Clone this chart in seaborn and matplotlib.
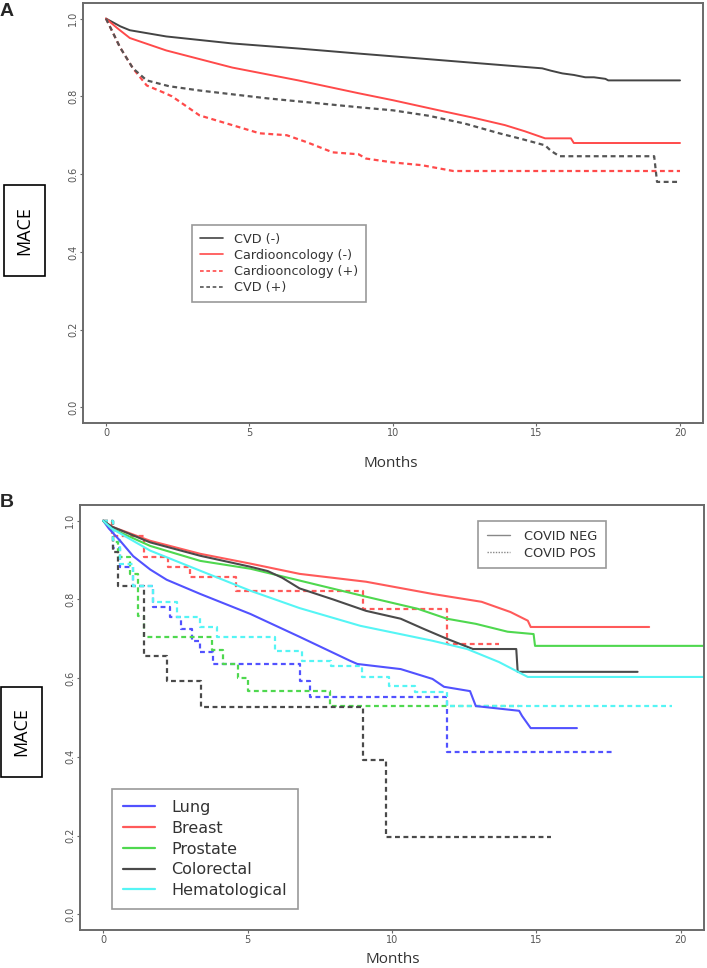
import matplotlib
matplotlib.use("Agg")
import matplotlib.pyplot as plt
from matplotlib.lines import Line2D
from matplotlib.patches import Rectangle
import seaborn as sns

sns.set_style("white")
plt.rcParams['font.family'] = ['DejaVu Sans']

# ---------------- panel A data ----------------
cvd_neg_months = [0, 0.5, 0.83, 2.1, 4.4, 6.7, 8.8, 11, 13, 15.2, 15.5, 15.9, 16.3, 16.7, 17.0, 17.4, 17.5, 20]
cvd_neg_mace = [1.0, 0.98, 0.97, 0.954, 0.936, 0.923, 0.91, 0.897, 0.885, 0.872, 0.866, 0.859, 0.855,
                0.849, 0.849, 0.845, 0.841, 0.841]

cardio_neg_months = [0, 0.4, 0.83, 2.1, 4.4, 6.7, 8.8, 10.0, 11.6, 12.8, 13.9, 14.6, 15.3, 16.2, 16.3, 20]
cardio_neg_mace = [1.0, 0.975, 0.95, 0.918, 0.874, 0.841, 0.808, 0.79, 0.764, 0.745, 0.726, 0.71,
                   0.692, 0.692, 0.68, 0.68]

cardio_pos_months = [0, 0.2, 0.49, 0.94, 1.42, 2.0, 2.3, 3.26, 4.4, 5.35, 6.3, 7.0, 7.9, 8.8, 9.06,
                     10.0, 11.0, 12.1, 20]
cardio_pos_mace = [1.0, 0.97, 0.926, 0.872, 0.828, 0.81, 0.80, 0.751, 0.726, 0.705, 0.70, 0.682,
                   0.656, 0.651, 0.64, 0.63, 0.623, 0.608, 0.608]

cvd_pos_months = [0, 0.2, 0.49, 0.94, 1.42, 2.2, 3.26, 5.6, 8.8, 10.0, 11.25, 12.5, 13.7, 14.5, 15.3,
                  15.5, 15.8, 19.1, 19.2, 20]
cvd_pos_mace = [1.0, 0.97, 0.926, 0.872, 0.841, 0.826, 0.815, 0.795, 0.772, 0.764, 0.75, 0.73, 0.705,
                0.69, 0.674, 0.66, 0.646, 0.646, 0.58, 0.58]

# ---------------- panel B data ----------------
# COVID negative (solid)
lung_months = [0, 0.2, 0.59, 1.04, 1.63, 2.2, 3.36, 5.1, 6.8, 8.55, 8.8, 10.3, 11.4, 11.8, 12.7, 12.9,
               14.4, 14.5, 14.8, 16.4]
lung_mace = [1.0, 0.98, 0.949, 0.91, 0.876, 0.85, 0.814, 0.763, 0.705, 0.644, 0.636, 0.623, 0.598,
             0.578, 0.567, 0.529, 0.517, 0.504, 0.473, 0.473]

breast_months = [0, 0.3, 1.63, 3.36, 5.1, 6.8, 9.1, 11.4, 13.1, 14.1, 14.7, 14.8, 18.9]
breast_mace = [1.0, 0.985, 0.949, 0.916, 0.891, 0.865, 0.845, 0.814, 0.794, 0.768, 0.746, 0.73, 0.73]

prostate_months = [0, 0.3, 1.63, 3.36, 5.1, 6.8, 9.1, 10.9, 11.9, 12.9, 14.0, 14.9, 14.95, 20.8]
prostate_mace = [1.0, 0.98, 0.936, 0.898, 0.878, 0.848, 0.807, 0.776, 0.751, 0.738, 0.718, 0.712,
                 0.682, 0.682]

colorectal_months = [0, 0.3, 1.63, 3.36, 5.1, 5.7, 6.2, 6.8, 7.96, 9.1, 10.3, 11.1, 11.9, 12.8, 14.3,
                     14.35, 18.5]
colorectal_mace = [1.0, 0.985, 0.945, 0.911, 0.883, 0.872, 0.855, 0.828, 0.80, 0.771, 0.751, 0.725,
                   0.70, 0.674, 0.674, 0.616, 0.616]

hemat_months = [0, 0.3, 1.63, 3.36, 5.1, 6.8, 8.9, 11.4, 12.6, 13.7, 14.7, 20.8]
hemat_mace = [1.0, 0.98, 0.924, 0.873, 0.822, 0.778, 0.733, 0.695, 0.674, 0.641, 0.603, 0.603]

# COVID positive (dashed, step curves)
lung_pos_months = [0, 0.35, 0.59, 1.04, 1.73, 2.3, 2.7, 3.07, 3.36, 3.8, 6.8, 7.16, 11.9, 17.6]
lung_pos_mace = [1.0, 0.93, 0.883, 0.835, 0.781, 0.756, 0.725, 0.695, 0.667, 0.636, 0.593, 0.552,
                 0.412, 0.412]

breast_pos_months = [0, 0.3, 1.4, 2.25, 3.0, 4.6, 9.0, 11.9, 13.7]
breast_pos_mace = [1.0, 0.96, 0.908, 0.883, 0.857, 0.822, 0.776, 0.687, 0.687]

prostate_pos_months = [0, 0.35, 0.52, 0.93, 1.2, 1.4, 3.77, 4.15, 4.67, 5.0, 7.85, 14.4]
prostate_pos_mace = [1.0, 0.947, 0.908, 0.865, 0.758, 0.705, 0.672, 0.636, 0.60, 0.567, 0.529, 0.529]

colorectal_pos_months = [0, 0.35, 0.52, 1.4, 2.2, 3.4, 9.0, 9.8, 15.5]
colorectal_pos_mace = [1.0, 0.92, 0.835, 0.656, 0.593, 0.527, 0.392, 0.196, 0.196]

hemat_pos_months = [0, 0.35, 0.59, 1.04, 1.73, 2.56, 3.36, 3.95, 5.95, 6.9, 7.9, 8.96, 9.9, 10.8,
                    11.9, 19.7]
hemat_pos_mace = [1.0, 0.95, 0.89, 0.835, 0.794, 0.756, 0.73, 0.705, 0.669, 0.644, 0.631, 0.603,
                  0.58, 0.565, 0.529, 0.529]

cancer_names = ["Lung", "Breast", "Prostate", "Colorectal", "Hematological"]
cancer_colors = ["#5252ff", "#ff5a5a", "#4fd84f", "#4a4a4a", "#55f5f5"]

DASH = (0, (2.2, 1.6))

fig = plt.figure(figsize=(7.07, 9.68), dpi=100)
axA = fig.add_axes([0.1174, 0.563, 0.8769, 0.4339])
axB = fig.add_axes([0.1132, 0.0393, 0.8826, 0.439])


def style_axis(ax):
    ax.set_xlim(-0.8, 20.8)
    ax.set_ylim(-0.04, 1.04)
    ax.set_xticks([0, 5, 10, 15, 20])
    ax.set_yticks([0.0, 0.2, 0.4, 0.6, 0.8, 1.0])
    ax.set_yticklabels(["0.0", "0.2", "0.4", "0.6", "0.8", "1.0"])
    ax.set_xlabel("")
    ax.set_ylabel("")
    for sp in ax.spines.values():
        sp.set_visible(True)
        sp.set_color("#6a6a6a")
        sp.set_linewidth(1.4)
    ax.tick_params(axis="both", labelsize=7, colors="#6a6a6a", labelcolor="#555555",
                   length=2, width=0.8, pad=1.5, direction="out", left=True, bottom=True)
    for lab in ax.get_yticklabels():
        lab.set_rotation(90)
        lab.set_va("center")


# panel A curves
sns.lineplot(x=cvd_neg_months, y=cvd_neg_mace, ax=axA, color="#444444", lw=1.4,
             estimator=None, sort=False)
sns.lineplot(x=cardio_neg_months, y=cardio_neg_mace, ax=axA, color="#ff4a4a", lw=1.4,
             estimator=None, sort=False)
sns.lineplot(x=cardio_pos_months, y=cardio_pos_mace, ax=axA, color="#ff4a4a", lw=1.6,
             linestyle=DASH, estimator=None, sort=False)
sns.lineplot(x=cvd_pos_months, y=cvd_pos_mace, ax=axA, color="#555555", lw=1.6,
             linestyle=DASH, estimator=None, sort=False)
style_axis(axA)

handlesA = [
    Line2D([], [], color="#444444", lw=1.2),
    Line2D([], [], color="#ff4a4a", lw=1.2),
    Line2D([], [], color="#ff4a4a", lw=1.2, linestyle=DASH),
    Line2D([], [], color="#555555", lw=1.2, linestyle=DASH),
]
labelsA = ["CVD (-)", "Cardiooncology (-)", "Cardiooncology (+)", "CVD (+)"]
legA = axA.legend(handlesA, labelsA, loc="upper left", bbox_to_anchor=(0.176, 0.471),
                  fontsize=9.2, frameon=True, fancybox=False, framealpha=1, edgecolor="#999999",
                  handlelength=1.8, handletextpad=0.9, labelspacing=0.24, borderpad=0.6,
                  borderaxespad=0)
legA.get_frame().set_linewidth(1.2)
for t in legA.get_texts():
    t.set_color("#333333")

# panel B curves
solid_series = [(lung_months, lung_mace), (breast_months, breast_mace),
                (prostate_months, prostate_mace), (colorectal_months, colorectal_mace),
                (hemat_months, hemat_mace)]
dashed_series = [(lung_pos_months, lung_pos_mace), (breast_pos_months, breast_pos_mace),
                 (prostate_pos_months, prostate_pos_mace),
                 (colorectal_pos_months, colorectal_pos_mace),
                 (hemat_pos_months, hemat_pos_mace)]

for (mx, my), col in zip(dashed_series, cancer_colors):
    sns.lineplot(x=mx, y=my, ax=axB, color=col, lw=1.6, linestyle=DASH,
                 drawstyle="steps-post", estimator=None, sort=False)
for (mx, my), col in zip(solid_series, cancer_colors):
    sns.lineplot(x=mx, y=my, ax=axB, color=col, lw=1.5, estimator=None, sort=False)
style_axis(axB)

handles_cancer = [Line2D([], [], color=c, lw=1.6) for c in cancer_colors]
legB1 = axB.legend(handles_cancer, cancer_names, loc="upper left", bbox_to_anchor=(0.051, 0.332),
                   fontsize=11.5, frameon=True, fancybox=False, framealpha=1, edgecolor="#999999",
                   handlelength=2.0, handletextpad=1.0, labelspacing=0.36, borderpad=0.7,
                   borderaxespad=0)
legB1.get_frame().set_linewidth(1.2)
for t in legB1.get_texts():
    t.set_color("#333333")
axB.add_artist(legB1)

handles_covid = [Line2D([], [], color="#888888", lw=1.0),
                 Line2D([], [], color="#888888", lw=1.0, linestyle=(0, (1, 1)))]
legB2 = axB.legend(handles_covid, ["COVID NEG", "COVID POS"], loc="upper left",
                   bbox_to_anchor=(0.638, 0.962), fontsize=9.3, frameon=True, fancybox=False,
                   framealpha=1, edgecolor="#999999", handlelength=1.8, handletextpad=1.1,
                   labelspacing=0.32, borderpad=0.65, borderaxespad=0)
legB2.get_frame().set_linewidth(1.2)
for t in legB2.get_texts():
    t.set_color("#333333")

# panel letters, axis titles and MACE boxes
fig.text(0.0, 0.9886, "A", fontsize=14, fontweight="bold", family="Liberation Sans",
         ha="left", va="center")
fig.text(0.0, 0.4804, "B", fontsize=14, fontweight="bold", family="Liberation Sans",
         ha="left", va="center")
fig.text(0.552, 0.5207, "Months", fontsize=11, family="Open Sans", color="#333333",
         ha="center", va="center")
fig.text(0.555, 0.0083, "Months", fontsize=11, family="Open Sans", color="#333333",
         ha="center", va="center")

for (x0, y0, w, h) in [(0.0057, 0.7149, 0.0579, 0.094), (0.0014, 0.1973, 0.058, 0.093)]:
    fig.patches.append(Rectangle((x0, y0), w, h, transform=fig.transFigure, fill=False,
                                 edgecolor="black", lw=1.2))
    fig.text(x0 + w / 2, y0 + h / 2, "MACE", rotation=90, fontsize=13, family="Open Sans",
             color="black", ha="center", va="center")

fig.savefig("out.png", dpi=100)
